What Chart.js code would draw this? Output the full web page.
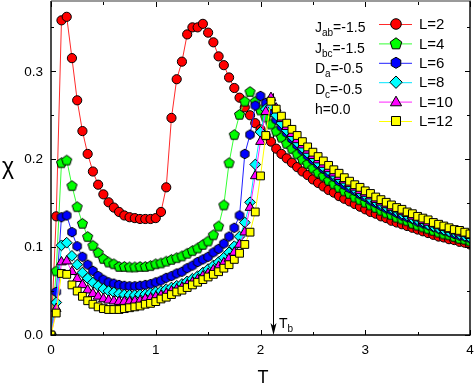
<!DOCTYPE html>
<html>
<head>
<meta charset="utf-8">
<script src="https://cdn.jsdelivr.net/npm/chart.js@4.4.0/dist/chart.umd.min.js"></script>
<style>
  html, body { margin: 0; padding: 0; background: #fff; }
  canvas { display: block; }
</style>
</head>
<body>
<canvas id="chi-chart" width="474" height="383"></canvas>
<script>
// temperature grid (x values)
const temps = [
  0, 0.05, 0.1, 0.15, 0.2, 0.25, 0.3, 0.35, 0.4, 0.45,
  0.5, 0.55, 0.6, 0.65, 0.7, 0.75, 0.8, 0.85, 0.9, 0.95,
  1.0, 1.05, 1.1, 1.15, 1.2, 1.25, 1.3, 1.35, 1.4, 1.45,
  1.5, 1.55, 1.6, 1.65, 1.7, 1.75, 1.8, 1.85, 1.9, 1.95,
  2.0, 2.05, 2.1, 2.15, 2.2, 2.25, 2.3, 2.35, 2.4, 2.45,
  2.5, 2.55, 2.6, 2.65, 2.7, 2.75, 2.8, 2.85, 2.9, 2.95,
  3.0, 3.05, 3.1, 3.15, 3.2, 3.25, 3.3, 3.35, 3.4, 3.45,
  3.5, 3.55, 3.6, 3.65, 3.7, 3.75, 3.8, 3.85, 3.9, 3.95,
  4.0
];

// susceptibility per lattice size
const chiL2 = [
  0, 0.135, 0.358, 0.362, 0.315, 0.267, 0.232, 0.206, 0.186, 0.171,
  0.160, 0.151, 0.145, 0.140, 0.136, 0.134, 0.133, 0.132, 0.132, 0.132,
  0.133, 0.140, 0.168, 0.247, 0.291, 0.311, 0.342, 0.350, 0.350, 0.354,
  0.344, 0.333, 0.317, 0.307, 0.293, 0.281, 0.270, 0.259, 0.250, 0.241,
  0.234, 0.227, 0.220, 0.212, 0.206, 0.201, 0.196, 0.191, 0.186, 0.182,
  0.177, 0.173, 0.169, 0.165, 0.162, 0.158, 0.155, 0.152, 0.149, 0.146,
  0.143, 0.140, 0.138, 0.135, 0.133, 0.130, 0.128, 0.126, 0.124, 0.122,
  0.120, 0.118, 0.116, 0.114, 0.112, 0.111, 0.109, 0.108, 0.106, 0.105,
  0.103
];
const chiL4 = [
  0, 0.073, 0.196, 0.199, 0.170, 0.146, 0.127, 0.112, 0.102, 0.094,
  0.087, 0.083, 0.081, 0.078, 0.078, 0.0775, 0.0775, 0.078, 0.078, 0.079,
  0.081, 0.082, 0.084, 0.086, 0.088, 0.090, 0.093, 0.096, 0.099, 0.103,
  0.107, 0.114, 0.124, 0.148, 0.196, 0.228, 0.251, 0.266, 0.277, 0.266,
  0.256, 0.248, 0.240, 0.232, 0.225, 0.218, 0.212, 0.206, 0.200, 0.195,
  0.190, 0.185, 0.181, 0.176, 0.172, 0.168, 0.164, 0.161, 0.157, 0.154,
  0.151, 0.148, 0.145, 0.142, 0.139, 0.137, 0.134, 0.132, 0.130, 0.127,
  0.125, 0.123, 0.121, 0.119, 0.117, 0.115, 0.114, 0.112, 0.110, 0.109,
  0.107
];
const chiL6 = [
  0, 0.049, 0.134, 0.136, 0.117, 0.101, 0.089, 0.080, 0.073, 0.067,
  0.063, 0.060, 0.0585, 0.057, 0.056, 0.0555, 0.0555, 0.056, 0.057, 0.058,
  0.060, 0.062, 0.065, 0.067, 0.070, 0.072, 0.076, 0.079, 0.083, 0.086,
  0.089, 0.094, 0.098, 0.104, 0.112, 0.122, 0.136, 0.206, 0.228, 0.261,
  0.272, 0.264, 0.254, 0.245, 0.237, 0.230, 0.223, 0.216, 0.210, 0.204,
  0.199, 0.194, 0.189, 0.184, 0.180, 0.175, 0.171, 0.167, 0.164, 0.160,
  0.157, 0.153, 0.150, 0.147, 0.144, 0.142, 0.139, 0.136, 0.134, 0.132,
  0.129, 0.127, 0.125, 0.123, 0.121, 0.119, 0.117, 0.115, 0.113, 0.112,
  0.110
];
const chiL8 = [
  0, 0.037, 0.102, 0.105, 0.090, 0.080, 0.071, 0.0645, 0.0595, 0.0557,
  0.0525, 0.050, 0.0485, 0.047, 0.046, 0.0455, 0.0455, 0.046, 0.0465, 0.0475,
  0.049, 0.050, 0.052, 0.054, 0.056, 0.058, 0.061, 0.064, 0.067, 0.071,
  0.075, 0.079, 0.083, 0.088, 0.094, 0.101, 0.112, 0.128, 0.151, 0.194,
  0.231, 0.257, 0.262, 0.250, 0.241, 0.233, 0.226, 0.219, 0.213, 0.207,
  0.202, 0.196, 0.191, 0.187, 0.182, 0.178, 0.174, 0.170, 0.166, 0.162,
  0.159, 0.155, 0.152, 0.149, 0.146, 0.144, 0.141, 0.138, 0.136, 0.133,
  0.131, 0.129, 0.126, 0.124, 0.122, 0.120, 0.118, 0.117, 0.115, 0.113,
  0.111
];
const chiL10 = [
  0, 0.030, 0.083, 0.084, 0.072, 0.064, 0.057, 0.051, 0.047, 0.044,
  0.041, 0.0395, 0.0385, 0.038, 0.038, 0.038, 0.0385, 0.039, 0.041, 0.042,
  0.0435, 0.045, 0.047, 0.050, 0.052, 0.054, 0.057, 0.060, 0.063, 0.067,
  0.070, 0.074, 0.078, 0.082, 0.087, 0.094, 0.103, 0.117, 0.145, 0.181,
  0.220, 0.254, 0.270, 0.258, 0.246, 0.237, 0.229, 0.222, 0.216, 0.210,
  0.204, 0.199, 0.194, 0.189, 0.184, 0.180, 0.176, 0.172, 0.168, 0.164,
  0.161, 0.158, 0.154, 0.151, 0.148, 0.145, 0.143, 0.140, 0.138, 0.135,
  0.133, 0.130, 0.128, 0.126, 0.124, 0.122, 0.120, 0.118, 0.116, 0.115,
  0.113
];
const chiL12 = [
  0, 0.025, 0.070, 0.069, 0.057, 0.050, 0.044, 0.039, 0.035, 0.032,
  0.030, 0.029, 0.029, 0.029, 0.030, 0.031, 0.032, 0.033, 0.035, 0.036,
  0.038, 0.041, 0.043, 0.046, 0.049, 0.051, 0.054, 0.057, 0.060, 0.063,
  0.066, 0.069, 0.072, 0.076, 0.080, 0.086, 0.093, 0.103, 0.117, 0.140,
  0.181, 0.227, 0.266, 0.257, 0.249, 0.241, 0.234, 0.227, 0.220, 0.214,
  0.208, 0.203, 0.198, 0.193, 0.188, 0.184, 0.179, 0.175, 0.171, 0.168,
  0.164, 0.161, 0.157, 0.154, 0.151, 0.148, 0.145, 0.143, 0.140, 0.138,
  0.135, 0.133, 0.131, 0.128, 0.126, 0.124, 0.122, 0.120, 0.119, 0.117,
  0.115
];

const seriesLabels = ['L=2', 'L=4', 'L=6', 'L=8', 'L=10', 'L=12'];
const seriesValues = [chiL2, chiL4, chiL6, chiL8, chiL10, chiL12];

const xTicks = [0, 1, 2, 3, 4];
const xTickLabels = ['0', '1', '2', '3', '4'];
const xMinorTicks = [0.5, 1.5, 2.5, 3.5];
const yTicks = [0, 0.1, 0.2, 0.3];
const yTickLabels = ['0.0', '0.1', '0.2', '0.3'];
const yMinorTicks = [0.05, 0.15, 0.25, 0.35];

// parameter block: [symbol, subscript, rest]
const paramLines = [
  ['J', 'ab', '=-1.5'],
  ['J', 'bc', '=-1.5'],
  ['D', 'a', '=-0.5'],
  ['D', 'c', '=-0.5'],
  ['h', '', '=0.0']
];

// T_b marker
const tbTemp = 2.12;
const tbTop = 0.275;

// styles
const fillColors = ['#ff0000', '#00ff00', '#0000ff', '#00ffff', '#ff00ff', '#ffff00'];
const lineColors = ['#ff2a2a', '#33ff33', '#2020ff', '#00e5ff', '#ff22ff', '#ffff00'];
const shapes = ['circle', 'pentagon', 'hexagon', 'diamond', 'triangle', 'square'];
const shapeSize = [4.6, 5.3, 4.8, 5.4, 5.6, 3.9];
const FONT = '"Liberation Sans", Arial, sans-serif';

function tracePolygon(g, n, cx, cy, R, start) {
  g.beginPath();
  for (let k = 0; k < n; k++) {
    const a = start + k * 2 * Math.PI / n;
    const px = cx + R * Math.cos(a), py = cy + R * Math.sin(a);
    if (k === 0) g.moveTo(px, py); else g.lineTo(px, py);
  }
  g.closePath();
}

function traceShape(g, shape, cx, cy, r) {
  if (shape === 'circle') {
    g.beginPath();
    g.arc(cx, cy, r, 0, 2 * Math.PI);
  } else if (shape === 'square') {
    g.beginPath();
    g.rect(cx - r, cy - r, 2 * r, 2 * r);
  } else if (shape === 'diamond') {
    tracePolygon(g, 4, cx, cy, r, -Math.PI / 2);
  } else if (shape === 'triangle') {
    tracePolygon(g, 3, cx, cy + r * 0.15, r, -Math.PI / 2);
  } else if (shape === 'pentagon') {
    tracePolygon(g, 5, cx, cy + r * 0.08, r, -Math.PI / 2);
  } else if (shape === 'hexagon') {
    tracePolygon(g, 6, cx, cy, r, -Math.PI / 2);
  }
}

function drawMarker(g, shape, cx, cy, r, fill) {
  traceShape(g, shape, cx, cy, r);
  g.fillStyle = fill;
  g.fill();
  g.lineWidth = 1;
  g.strokeStyle = '#000';
  g.stroke();
}

function markerImage(shape, r, fill) {
  const size = Math.ceil(2 * r + 4);
  const cv = document.createElement('canvas');
  cv.width = size;
  cv.height = size;
  drawMarker(cv.getContext('2d'), shape, size / 2, size / 2, r, fill);
  return cv;
}

function nativeStyle(i) {
  const s = shapes[i];
  if (s === 'circle') return { pointStyle: 'circle', pointRadius: shapeSize[i] };
  if (s === 'square') return { pointStyle: 'rect', pointRadius: shapeSize[i] * Math.SQRT2 };
  if (s === 'diamond') return { pointStyle: 'rectRot', pointRadius: shapeSize[i] };
  if (s === 'triangle') return { pointStyle: 'triangle', pointRadius: shapeSize[i] };
  return { pointStyle: markerImage(s, shapeSize[i], fillColors[i]), pointRadius: shapeSize[i] };
}

const datasets = seriesValues.map(function (vals, i) {
  const st = nativeStyle(i);
  return {
    label: seriesLabels[i],
    data: temps.map(function (t, k) { return { x: t, y: vals[k] }; }),
    borderColor: lineColors[i],
    borderWidth: 1,
    backgroundColor: fillColors[i],
    pointBackgroundColor: fillColors[i],
    pointBorderColor: '#000',
    pointBorderWidth: 1,
    pointStyle: st.pointStyle,
    pointRadius: st.pointRadius,
    tension: 0,
    clip: 0,
    order: seriesLabels.length - 1 - i
  };
});

function subText(g, x, y, main, sub, rest, size, subSize) {
  g.font = size + 'px ' + FONT;
  g.fillText(main, x, y);
  x += g.measureText(main).width;
  if (sub) {
    g.font = subSize + 'px ' + FONT;
    g.fillText(sub, x, y + 4);
    x += g.measureText(sub).width;
  }
  g.font = size + 'px ' + FONT;
  g.fillText(rest, x, y);
}

const arrowPlugin = {
  id: 'tbArrow',
  beforeDatasetsDraw: function (chart) {
    const g = chart.ctx, xs = chart.scales.x, ys = chart.scales.y;
    const x = Math.round(xs.getPixelForValue(tbTemp)) + 0.5;
    const y0 = ys.getPixelForValue(tbTop), y1 = ys.getPixelForValue(0);
    g.save();
    g.strokeStyle = '#000';
    g.lineWidth = 1;
    g.beginPath();
    g.moveTo(x, y0);
    g.lineTo(x, y1 - 4);
    g.stroke();
    g.beginPath();
    g.moveTo(x, y1);
    g.lineTo(x - 3, y1 - 12);
    g.lineTo(x, y1 - 9);
    g.lineTo(x + 3, y1 - 12);
    g.closePath();
    g.fillStyle = '#000';
    g.fill();
    g.restore();
  }
};

const framePlugin = {
  id: 'frame',
  afterDraw: function (chart) {
    const g = chart.ctx, a = chart.chartArea;
    const xs = chart.scales.x, ys = chart.scales.y;
    g.save();
    // frame
    g.fillStyle = '#9a9a9a';
    g.fillRect(a.left, 0, a.right - a.left + 1, 2);
    g.strokeStyle = '#000';
    g.lineWidth = 1.4;
    g.beginPath();
    g.moveTo(a.left, 1);
    g.lineTo(a.left, a.bottom);
    g.lineTo(a.right, a.bottom);
    g.lineTo(a.right, 1);
    g.stroke();
    // inward ticks
    g.lineWidth = 1;
    g.beginPath();
    function xt(v, len) {
      const p = Math.round(xs.getPixelForValue(v)) + 0.5;
      g.moveTo(p, a.bottom); g.lineTo(p, a.bottom - len);
      g.moveTo(p, 2); g.lineTo(p, 2 + len);
    }
    function yt(v, len) {
      const p = Math.round(ys.getPixelForValue(v)) + 0.5;
      g.moveTo(a.left, p); g.lineTo(a.left + len, p);
      g.moveTo(a.right, p); g.lineTo(a.right - len, p);
    }
    xTicks.forEach(function (v) { xt(v, 5); });
    xMinorTicks.forEach(function (v) { xt(v, 3); });
    yTicks.forEach(function (v) { yt(v, 5); });
    yMinorTicks.forEach(function (v) { yt(v, 3); });
    g.stroke();

    // tick labels
    g.fillStyle = '#000';
    g.font = '13.5px ' + FONT;
    g.textBaseline = 'middle';
    g.textAlign = 'center';
    xTicks.forEach(function (v, i) {
      g.fillText(xTickLabels[i], xs.getPixelForValue(v), a.bottom + 15.5);
    });
    g.textAlign = 'right';
    yTicks.forEach(function (v, i) {
      g.fillText(yTickLabels[i], a.left - 8, ys.getPixelForValue(v) + 0.5);
    });

    // axis titles
    g.textAlign = 'center';
    g.font = '23px ' + FONT;
    g.fillText('\u03c7', 8, 168);
    g.textBaseline = 'alphabetic';
    g.font = '18px ' + FONT;
    g.fillText('T', 263, 383);

    // T_b label
    g.textAlign = 'left';
    subText(g, 279, 328, 'T', 'b', '', 14, 10);

    // parameters
    paramLines.forEach(function (p, i) {
      subText(g, 315, 32 + i * 20.5, p[0], p[1], p[2], 14, 10);
    });

    // legend
    seriesLabels.forEach(function (lab, i) {
      const y = 24 + i * 19.4;
      g.strokeStyle = lineColors[i];
      g.lineWidth = 1;
      g.beginPath();
      g.moveTo(379, y + 0.5);
      g.lineTo(412, y + 0.5);
      g.stroke();
      drawMarker(g, shapes[i], 396, y, shapeSize[i] * 1.15, fillColors[i]);
      g.fillStyle = '#000';
      g.font = '15px ' + FONT;
      g.textBaseline = 'middle';
      g.fillText(lab, 419, y + 1);
      g.textBaseline = 'alphabetic';
    });
    g.restore();
  }
};

new Chart(document.getElementById('chi-chart'), {
  type: 'line',
  data: { datasets: datasets },
  options: {
    responsive: false,
    animation: false,
    devicePixelRatio: 1,
    layout: { autoPadding: false, padding: { top: 1, right: 4, left: 0, bottom: 0 } },
    plugins: { legend: { display: false }, tooltip: { enabled: false } },
    scales: {
      x: {
        type: 'linear',
        min: 0,
        max: 4,
        afterFit: function (s) { s.height = 48; },
        grid: { display: false, drawTicks: false },
        border: { display: false },
        ticks: { display: false }
      },
      y: {
        type: 'linear',
        min: 0,
        max: 0.38,
        afterFit: function (s) { s.width = 51; },
        grid: { display: false, drawTicks: false },
        border: { display: false },
        ticks: { display: false }
      }
    }
  },
  plugins: [arrowPlugin, framePlugin]
});
</script>
</body>
</html>
